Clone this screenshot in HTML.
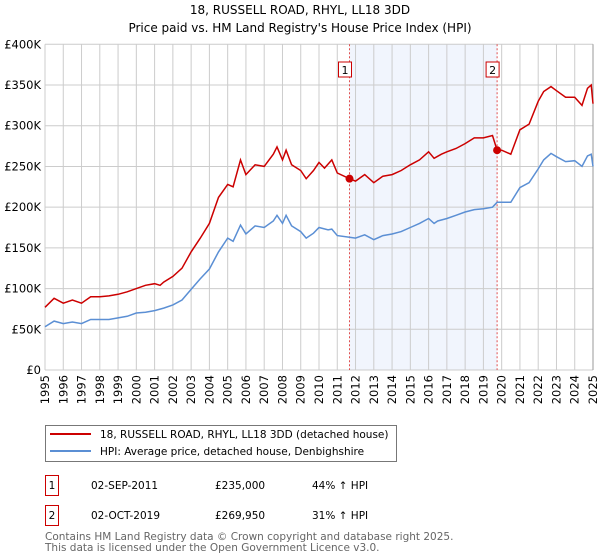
<!DOCTYPE html>
<html><head><meta charset="utf-8"><style>
body{margin:0;background:#fff;font-family:"DejaVu Sans","Liberation Sans",sans-serif;}
#wrap{position:relative;width:600px;height:560px;overflow:hidden;}
svg text{font-family:"DejaVu Sans","Liberation Sans",sans-serif;}
</style></head><body><div id="wrap">
<svg id="chart" width="600" height="560"></svg>
</div>
<script>
const years=[1995,1996,1997,1998,1999,2000,2001,2002,2003,2004,2005,2006,2007,2008,2009,2010,2011,2012,2013,2014,2015,2016,2017,2018,2019,2020,2021,2022,2023,2024,2025];
const yTicks=[0,50,100,150,200,250,300,350,400];
const yTickLabels=["£0","£50K","£100K","£150K","£200K","£250K","£300K","£350K","£400K"];
const hpiT=[1995,1995.5,1996,1996.5,1997,1997.5,1998,1998.5,1999,1999.5,2000,2000.5,2001,2001.5,2002,2002.5,2003,2003.5,2004,2004.5,2005,2005.3,2005.7,2006,2006.5,2007,2007.5,2007.7,2008,2008.2,2008.5,2009,2009.3,2009.7,2010,2010.5,2010.7,2011,2011.67,2012,2012.5,2013,2013.5,2014,2014.5,2015,2015.5,2016,2016.3,2016.5,2017,2017.5,2018,2018.5,2019,2019.5,2019.75,2020,2020.5,2021,2021.5,2022,2022.3,2022.7,2023,2023.5,2024,2024.4,2024.7,2024.9,2025];
const hpiV=[53,60,57,59,57,62,62,62,64,66,70,71,73,76,80,86,99,112,124,145,162,158,178,167,177,175,183,190,180,190,177,170,162,168,175,172,173,165,163,162,166,160,165,167,170,175,180,186,180,183,186,190,194,197,198,200,206,206,206,224,230,247,258,266,262,256,257,250,263,265,250];
const redT=[1995,1995.5,1996,1996.5,1997,1997.5,1998,1998.5,1999,1999.5,2000,2000.5,2001,2001.3,2001.5,2002,2002.5,2003,2003.5,2004,2004.5,2005,2005.3,2005.7,2006,2006.5,2007,2007.5,2007.7,2008,2008.2,2008.5,2009,2009.3,2009.7,2010,2010.3,2010.7,2011,2011.67,2012,2012.5,2013,2013.5,2014,2014.5,2015,2015.5,2016,2016.3,2016.7,2017,2017.5,2018,2018.5,2019,2019.5,2019.75,2020,2020.5,2021,2021.5,2022,2022.3,2022.7,2023,2023.5,2024,2024.4,2024.7,2024.9,2025];
const redV=[77,88,82,86,82,90,90,91,93,96,100,104,106,104,108,115,125,145,162,180,212,228,225,258,240,252,250,265,274,258,270,252,245,235,245,255,248,258,242,235,232,240,230,238,240,245,252,258,268,260,265,268,272,278,285,285,288,270,270,265,295,302,330,342,348,343,335,335,325,346,350,327];
const saleT=[2011.67,2019.75];
const saleV=[235,269.95];
const saleLabels=["1","2"];

const NS="http://www.w3.org/2000/svg";
const svg=document.getElementById('chart');
const L=45,R=593,T=44.3,B=370;
const x=t=>L+(t-1995)/30*(R-L);
const y=v=>B-v/400*(B-T);
function el(tag,attrs,parent){const e=document.createElementNS(NS,tag);for(const k in attrs)e.setAttribute(k,attrs[k]);(parent||svg).appendChild(e);return e;}
function txt(s,attrs){const e=el('text',attrs);e.textContent=s;return e;}

let t=txt("18, RUSSELL ROAD, RHYL, LL18 3DD",{x:300,y:14,'text-anchor':'middle','font-size':12,fill:'#000'});


t=txt("Price paid vs. HM Land Registry's House Price Index (HPI)",{x:300,y:32,'text-anchor':'middle','font-size':12,fill:'#000'});



let band=el('rect',{x:x(saleT[0]),y:T,width:x(saleT[1])-x(saleT[0]),height:B-T,fill:'#eef3fc',opacity:0.8});



years.forEach(yr=>{
 const g=el('line',{x1:x(yr),x2:x(yr),y1:T,y2:B,stroke:'#cccccc','stroke-width':1});
 
 
 const lx=x(yr)+4,ly=B+5;
 const lb=txt(String(yr),{x:lx,y:ly,transform:`rotate(-90 ${lx} ${ly})`,'text-anchor':'end','font-size':11.5,fill:'#000'});
 
 
});
yTicks.forEach((v,i)=>{
 const g=el('line',{x1:L,x2:R,y1:y(v),y2:y(v),stroke:'#cccccc','stroke-width':1});
 
 
 const lb=txt(yTickLabels[i],{x:L-4,y:y(v)+4,'text-anchor':'end','font-size':11.5,fill:'#000'});
 
 
});
let ax=el('line',{x1:R,x2:R,y1:T,y2:B,stroke:'#999','stroke-width':1});



saleT.forEach((st,i)=>{
 const v=el('line',{x1:x(st),x2:x(st),y1:T,y2:B,stroke:'#e05050','stroke-width':1,'stroke-dasharray':'2,2'});
 
 
 const bx=el('rect',{x:x(st)-11,y:62,width:13,height:15,fill:'#fff',stroke:'#cc0000','stroke-width':1});
 
 
 const lb=txt(saleLabels[i],{x:x(st)-4.5,y:74,'text-anchor':'middle','font-size':11,fill:'#000'});
 
 
});

function path(ts,vs){return ts.map((tt,i)=>(i?'L':'M')+x(tt).toFixed(1)+','+y(vs[i]).toFixed(1)).join('');}
let hp=el('path',{d:path(hpiT,hpiV),fill:'none',stroke:'#5b8fd4','stroke-width':1.5});


let rp=el('path',{d:path(redT,redV),fill:'none',stroke:'#cc0000','stroke-width':1.5});


saleT.forEach((st,i)=>{
 const c=el('circle',{cx:x(st),cy:y(saleV[i]),r:4,fill:'#cc0000'});
 
 
});

let lg=el('rect',{x:45.5,y:425.5,width:351,height:36,fill:'#fff',stroke:'#777','stroke-width':1});


let l1=el('line',{x1:50,x2:91,y1:434,y2:434,stroke:'#cc0000','stroke-width':2});


t=txt("18, RUSSELL ROAD, RHYL, LL18 3DD (detached house)",{x:100,y:438,'font-size':10.5,fill:'#000'});


let l2=el('line',{x1:50,x2:91,y1:451,y2:451,stroke:'#5b8fd4','stroke-width':2});


t=txt("HPI: Average price, detached house, Denbighshire",{x:100,y:455,'font-size':10.5,fill:'#000'});



const rowsD=["02-SEP-2011","02-OCT-2019"],rowsP=["£235,000","£269,950"],rowsH=["44% ↑ HPI","31% ↑ HPI"];
[475,505].forEach((ry,i)=>{
 const b=el('rect',{x:45.5,y:ry+0.5,width:13,height:20,fill:'#fff',stroke:'#cc0000','stroke-width':1});
 
 
 let a=txt(saleLabels[i],{x:52,y:ry+14,'text-anchor':'middle','font-size':10.5,fill:'#000'});
 
 
 a=txt(rowsD[i],{x:91,y:ry+14,'font-size':10.5,fill:'#000'});
 
 
 a=txt(rowsP[i],{x:215,y:ry+14,'font-size':10.5,fill:'#000'});
 
 
 a=txt(rowsH[i],{x:312,y:ry+14,'font-size':10.5,fill:'#000'});
 
 
});
t=txt("Contains HM Land Registry data © Crown copyright and database right 2025.",{x:45,y:540,'font-size':10.5,fill:'#666'});


t=txt("This data is licensed under the Open Government Licence v3.0.",{x:45,y:551,'font-size':10.5,fill:'#666'});


</script></body></html>
